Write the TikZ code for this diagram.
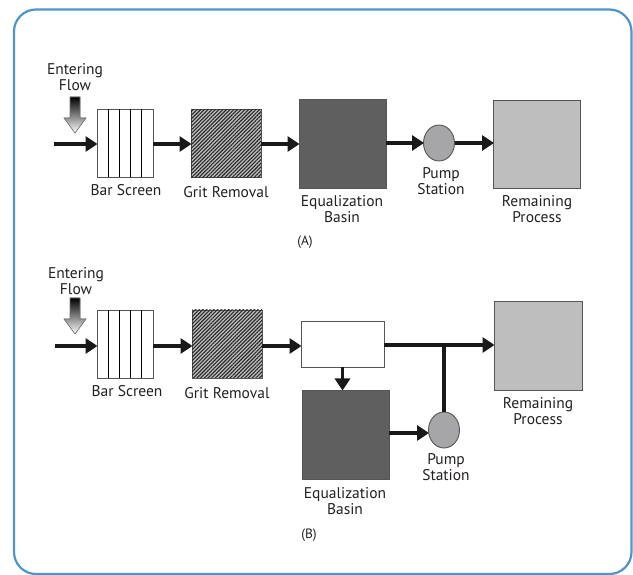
\documentclass[tikz,border=0pt]{standalone}
\usepackage{fontspec}
\setmainfont{PT Sans}
\usetikzlibrary{arrows.meta,shapes.geometric,patterns.meta,calc}
\definecolor{frameblue}{HTML}{4F95C9}
\definecolor{txt}{HTML}{231F20}
\definecolor{eqgray}{HTML}{5F5F5F}
\definecolor{pumpgray}{HTML}{A6A6A8}
\definecolor{remgray}{HTML}{BEBEBE}
\definecolor{edge}{HTML}{555555}
\begin{document}
\begin{tikzpicture}[x=1pt,y=-1pt,
  flow/.style={line width=3.2pt,draw=black!90,-{Triangle[length=12pt,width=15pt]},shorten >=-0.5pt},
  plain/.style={line width=3.2pt,draw=black!90},
  box/.style={draw=edge,line width=0.9pt,inner sep=0pt,outer sep=0pt},
  barbox/.style={box,fill=white,minimum width=56pt,minimum height=68pt},
  gritbox/.style={box,fill=black!25,minimum width=70pt,minimum height=68pt,
     postaction={pattern={Lines[angle=45,distance=2.6pt,line width=1.1pt]},pattern color=black!85}},
  eqbox/.style={box,fill=eqgray,minimum width=87pt,minimum height=89pt},
  rembox/.style={box,fill=remgray,minimum width=87pt,minimum height=88pt},
  pump/.style={ellipse,draw=edge,line width=0.9pt,fill=pumpgray,minimum width=31pt,minimum height=36pt,inner sep=0pt,outer sep=0pt},
  lbl/.style={text=txt,font=\fontsize{15.5}{16.5}\selectfont,align=center,inner sep=0pt},
  captxt/.style={text=txt,font=\fontsize{13.5}{15}\selectfont,inner sep=0pt},
]
\useasboundingbox (0,0) rectangle (633,575);
\draw[frameblue,line width=2.2pt,rounded corners=22pt] (14,9.5) rectangle (631.5,574);

% ---------- (A) ----------
\node[lbl] (entA) at (75,77) {Entering\\Flow};
\fill[top color=black,bottom color=white,draw=black!55,line width=0.6pt]
  (70,97) -- (80,97) -- (80,118) -- (86,118) -- (75,133) -- (64,118) -- (70,118) -- cycle;
\coordinate (inA) at (54,144);
\node[barbox] (barA) at (125,143.5) {};
\foreach \i in {1,...,4} \draw[black,line width=0.8pt] ($(barA.north west)+(11.2*\i,0)$) -- ($(barA.south west)+(11.2*\i,0)$);
\node[gritbox] (gritA) at (226,143.5) {};
\node[eqbox] (eqA) at (342.5,143.5) {};
\node[pump] (pumpA) at (439,143) {};
\node[rembox] (remA) at (537,144) {};
\draw[flow] (inA) -- (barA.west |- inA);
\draw[flow] (barA.east |- inA) -- (gritA.west |- inA);
\draw[flow] (gritA.east |- inA) -- (eqA.west |- inA);
\draw[flow] (eqA.east |- pumpA) -- (pumpA.west);
\draw[flow] (pumpA.east) -- (remA.west |- pumpA);
\node[lbl] (lbarA) at (126,190) {Bar Screen};
\node[lbl] (lgritA) at (226,192) {Grit Removal};
\node[lbl] (leqA) at (342,209) {Equalization\\Basin};
\node[lbl] (lpumpA) at (441,181) {Pump\\Station};
\node[lbl] (lremA) at (537,209) {Remaining\\Process};
\node[captxt] (capA) at (305,242) {(A)};

% ---------- (B) ----------
\node[lbl] (entB) at (76,281) {Entering\\Flow};
\fill[top color=black,bottom color=white,draw=black!55,line width=0.6pt]
  (70,298) -- (80,298) -- (80,319) -- (86,319) -- (75,334) -- (64,319) -- (70,319) -- cycle;
\coordinate (inB) at (55,346);
\node[barbox] (barB) at (125,344) {};
\foreach \i in {1,...,4} \draw[black,line width=0.8pt] ($(barB.north west)+(11.2*\i,0)$) -- ($(barB.south west)+(11.2*\i,0)$);
\node[gritbox] (gritB) at (227,344) {};
\node[box,fill=white,minimum width=83pt,minimum height=46pt] (split) at (342.5,344) {};
\node[rembox,minimum width=88pt,minimum height=89pt] (remB) at (538,345.5) {};
\node[eqbox] (eqB) at (345.5,434.5) {};
\node[pump] (pumpB) at (444,430) {};
\draw[flow] (inB) -- (barB.west |- inB);
\draw[flow] (barB.east |- inB) -- (gritB.west |- inB);
\draw[flow] (gritB.east |- inB) -- (split.west |- inB);
\draw[flow] (split.east |- 0,345) -- (remB.west |- 0,345);
\draw[plain] (pumpB.north) -- (pumpB.north |- 0,345);
\draw[flow] (split.south) -- (split.south |- eqB.north);
\draw[flow] (eqB.east |- 0,433) -- (pumpB.west |- 0,433);
\node[lbl] (lbarB) at (127,391) {Bar Screen};
\node[lbl] (lgritB) at (227,393) {Grit Removal};
\node[lbl] (leqB) at (345,501) {Equalization\\Basin};
\node[lbl] (lpumpB) at (446,467) {Pump\\Station};
\node[lbl] (lremB) at (538,411) {Remaining\\Process};
\node[captxt] (capB) at (309,535) {(B)};
\end{tikzpicture}
\end{document}
